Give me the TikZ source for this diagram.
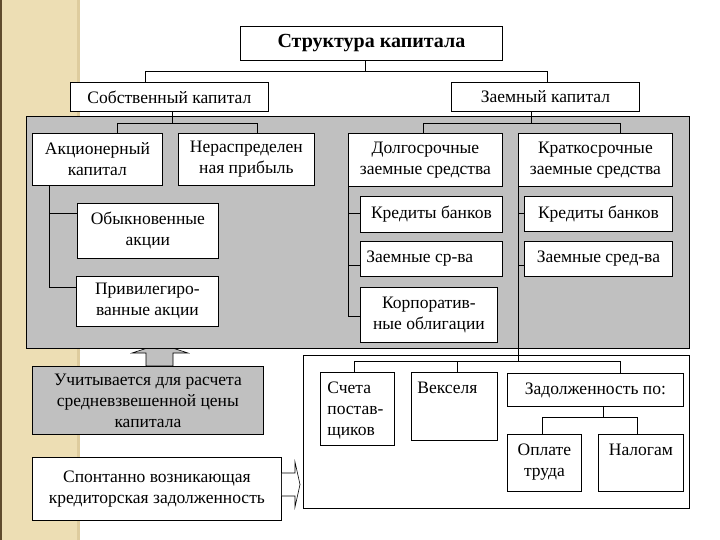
\documentclass[tikz,border=0pt]{standalone}
\usepackage{fontspec}
\setmainfont{Liberation Serif}
\definecolor{beige}{RGB}{237,222,180}
\definecolor{beigeedge}{RGB}{222,204,158}
\definecolor{brownedge}{RGB}{95,75,45}
\definecolor{panelgray}{RGB}{192,192,192}
\pgfdeclarelayer{back}
\pgfdeclarelayer{mid}
\pgfsetlayers{back,mid,main}
\tikzset{
  box/.style={draw=black, fill=white, line width=0.8pt, inner sep=0pt, anchor=north west,
    font=\fontsize{17.5}{21}\selectfont},
  gbox/.style={box, fill=panelgray},
  titlebox/.style={box, font=\fontsize{20}{24}\selectfont\bfseries},
  frame/.style={draw=black, line width=0.8pt, inner sep=0pt, anchor=north west},
  conn/.style={draw=black, line width=0.8pt},
  blockarrow/.style={draw=black, line width=0.6pt},
}
% centered content: [style]{name}{x1}{y1}{x2}{y2}{text}
\newcommand\bx[7][box]{\node[#1] (#2) at (#3,#4)
  {\parbox[c][\dimexpr #6pt-#4pt\relax][c]{\dimexpr #5pt-#3pt\relax}{\centering #7\par}};}
% top aligned content
\newcommand\tbx[7][box]{\node[#1] (#2) at (#3,#4)
  {\parbox[c][\dimexpr #6pt-#4pt\relax][t]{\dimexpr #5pt-#3pt\relax}{#7\par}};}
\begin{document}
\begin{tikzpicture}[x=1pt,y=-1pt]
\useasboundingbox (0,0) rectangle (720,540);
% top level
\bx[titlebox]{T}{240}{26}{502}{60}{Структура капитала}
\bx{S}{70}{82}{268}{111}{Собственный капитал}
\bx{Z}{451}{82}{639}{111}{Заемный капитал}
% second level
\bx{A}{32}{133}{162}{185}{Акционерный\\капитал}
\bx{N}{178}{133}{314}{185}{Нераспределен\\ная прибыль}
\bx{D}{348}{133}{502}{186}{Долгосрочные\\заемные средства}
\bx{K}{518}{133}{672}{186}{Краткосрочные\\заемные средства}
% third level
\bx{O}{77}{203}{218}{258}{Обыкновенные\\акции}
\bx{P}{76}{276}{218}{326}{Привилегиро-\\ванные акции}
\bx{KB1}{360}{196}{502}{232}{Кредиты банков}
\bx{ZS1}{360}{241}{502}{276}{\raggedright\hspace*{6pt}Заемные ср-ва}
\bx{KO}{360}{287}{497}{342}{Корпоратив-\\ные облигации}
\bx{KB2}{524}{196}{672}{231}{Кредиты банков}
\bx{ZS2}{524}{241}{672}{276}{Заемные сред-ва}
% bottom left
\bx[gbox]{U}{32}{366}{263}{434}{Учитывается для расчета\\средневзвешенной цены\\капитала}
\bx{SP}{32}{457}{281}{520}{Спонтанно возникающая\\кредиторская задолженность}
% lower frame content
\tbx{SC}{320}{372}{394}{445}{\raggedright\hspace*{7pt}\rule{0pt}{21pt}Счета\\\hspace*{7pt}постав-\\\hspace*{7pt}щиков}
\tbx{V}{411}{372}{497}{440}{\raggedright\hspace*{6pt}\rule{0pt}{21pt}Векселя}
\bx{ZP}{507}{373}{683}{406}{Задолженность по:}
\tbx{OT}{507}{434}{581}{491}{\centering\rule{0pt}{21pt}Оплате\\труда}
\tbx{NL}{598}{434}{683}{491}{\centering\rule{0pt}{21pt}Налогам}
% outline arrow to the lower frame
\draw[blockarrow, fill=white] (SP.east |- 0,473) -- (295,473) -- (295,462) -- (300,484.5) -- (295,507) -- (295,496) -- (SP.east |- 0,496);
\begin{pgfonlayer}{back}
  % left decorative band
  \fill[beige] (0,0) rectangle (80,540);
  \fill[beigeedge] (77,0) rectangle (80,540);
  \fill[brownedge] (0,0) rectangle (2,540);
  % up block arrow (tip hidden under the panel)
  \draw[blockarrow, fill=panelgray] (U.north -| 146,0) -- (146,353) -- (132,353) -- (160,344) -- (188,353) -- (173,353) -- (U.north -| 173,0) -- cycle;
  % grey panel and lower frame
  \node[frame, fill=panelgray, minimum width=663pt, minimum height=232pt] (panel) at (26,116) {};
  \node[frame, fill=white, minimum width=386pt, minimum height=153pt] (lower) at (303,355) {};
\end{pgfonlayer}
\begin{pgfonlayer}{mid}
  \draw[conn] (T.south -| 365,0) -- (365,71);
  \draw[conn] (S.north -| 145,0) |- (547,71) -- (Z.north -| 547,0);
  \draw[conn] (S.south -| 172,0) -- (172,123);
  \draw[conn] (A.north -| 117,0) |- (257,123) -- (N.north -| 257,0);
  \draw[conn] (Z.south -| 531,0) -- (531,123);
  \draw[conn] (D.north -| 423,0) |- (620,123) -- (K.north -| 620,0);
  \draw[conn] (A.south -| 49,0) |- (O.west |- 0,213);
  \draw[conn] (49,213) |- (P.west |- 0,287);
  \draw[conn] (D.south west) |- (KB1.west |- 0,213);
  \draw[conn] (D.south west |- 0,213) |- (ZS1.west |- 0,265);
  \draw[conn] (D.south west |- 0,265) |- (KO.west |- 0,316);
  \draw[conn] (K.south west) -- (K.south west |- 0,361);
  \draw[conn] (K.south west |- 0,213) -- (KB2.west |- 0,213);
  \draw[conn] (K.south west |- 0,265) -- (ZS2.west |- 0,265);
  \draw[conn] (SC.north -| 354,0) |- (620,361) -- (ZP.north -| 620,0);
  \draw[conn] (457,361) -- (V.north -| 457,0);
  \draw[conn] (ZP.south -| 603,0) -- (603,417);
  \draw[conn] (OT.north -| 542,0) |- (637,417) -- (NL.north -| 637,0);
\end{pgfonlayer}
\end{tikzpicture}
\end{document}
